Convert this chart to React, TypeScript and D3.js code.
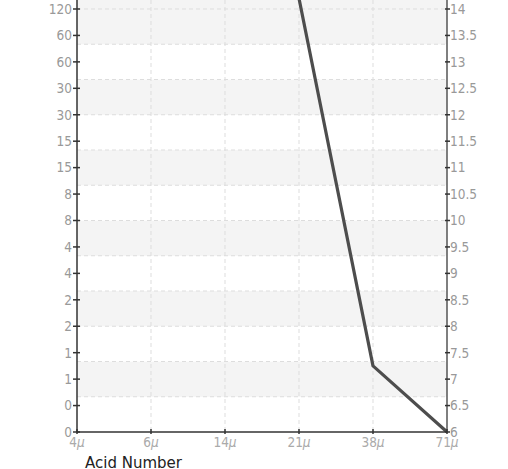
import React from "react";
import * as d3 from "d3";

const categories = ["4", "6", "14", "21", "38", "71"];
const lineCategories = ["21", "38", "71"];
const lineValues = [14.2, 7.25, 6];
const rightTicks = [6, 6.5, 7, 7.5, 8, 8.5, 9, 9.5, 10, 10.5, 11, 11.5, 12, 12.5, 13, 13.5, 14];
const leftTickLabels = ["0", "0", "1", "1", "2", "2", "4", "4", "8", "8", "15", "15", "30", "30", "60", "60", "120"];
const gridDivisions = 12;

const W = 508, H = 469;
const left = 77, right = 447, top = 9, bottom = 432;
const font = "'DejaVu Sans Condensed', 'Liberation Sans Narrow', sans-serif";

export default function App() {
  const x = d3.scalePoint<string>().domain(categories).range([left, right]);
  const y = d3.scaleLinear().domain([6, 14]).range([bottom, top]);
  const g = d3.scaleLinear().domain([0, gridDivisions]).range([bottom, top]);
  const line = d3.line<number>()
    .x((_, i) => x(lineCategories[i]) as number)
    .y((d) => y(d));
  const bands = d3.range(gridDivisions);
  return (
    <svg width={W} height={H} style={{ position: "absolute", left: 0, top: 0, display: "block" }}>
      <defs>
        <clipPath id="plot">
          <rect x={left} y={0} width={right - left} height={bottom} />
        </clipPath>
      </defs>
      {bands.map((i) => {
        const y0 = i === gridDivisions - 1 ? 0 : g(i + 1);
        return (
          <rect key={"b" + i} x={left} width={right - left} y={y0} height={g(i) - y0}
            fill={i % 2 === 1 ? "#f4f4f4" : "#ffffff"} />
        );
      })}
      {d3.range(1, gridDivisions + 1).map((i) => (
        <line key={"h" + i} x1={left} x2={right} y1={g(i)} y2={g(i)} stroke="#dddddd" strokeDasharray="4,3" />
      ))}
      {categories.slice(1, -1).map((c) => (
        <line key={"v" + c} x1={x(c)} x2={x(c)} y1={0} y2={bottom} stroke="#dddddd" strokeDasharray="4,3" />
      ))}
      <path d={line(lineValues) || ""} fill="none" stroke="#4d4d4d" strokeWidth={3.2} clipPath="url(#plot)" strokeLinejoin="round" />
      <line x1={left} x2={left} y1={0} y2={bottom} stroke="#333" strokeWidth={1.5} />
      <line x1={right} x2={right} y1={0} y2={bottom} stroke="#555" strokeWidth={1.5} />
      <line x1={left} x2={right} y1={bottom} y2={bottom} stroke="#333" strokeWidth={1.5} />
      {rightTicks.map((t, i) => (
        <g key={"l" + i}>
          <line x1={left - 4} x2={left + 3} y1={y(t)} y2={y(t)} stroke="#333" strokeWidth={1.5} />
          <text x={left - 5} y={y(t)} dy="0.36em" textAnchor="end" fontSize={13.5} fill="#999999" fontFamily={font}>
            {leftTickLabels[i]}
          </text>
        </g>
      ))}
      {rightTicks.map((t) => (
        <g key={"r" + t}>
          <line x1={right - 2} x2={right + 3} y1={y(t)} y2={y(t)} stroke="#333" strokeWidth={1.5} />
          <text x={right + 3} y={y(t)} dy="0.36em" textAnchor="start" fontSize={13.5} fill="#999999" fontFamily={font}>
            {t}
          </text>
        </g>
      ))}
      {categories.map((c) => (
        <g key={"x" + c}>
          <line x1={x(c)} x2={x(c)} y1={bottom - 3} y2={bottom + 2} stroke="#333" strokeWidth={1.5} />
          <text x={x(c)} y={bottom + 15} textAnchor="middle" fontSize={13.5} fill="#aaaaaa" fontFamily={font}>
            {c}<tspan fontStyle="italic">μ</tspan>
          </text>
        </g>
      ))}
      <text x={85} y={468} fontSize={15} fill="#222" fontFamily="'DejaVu Sans', sans-serif">Acid Number</text>
    </svg>
  );
}
